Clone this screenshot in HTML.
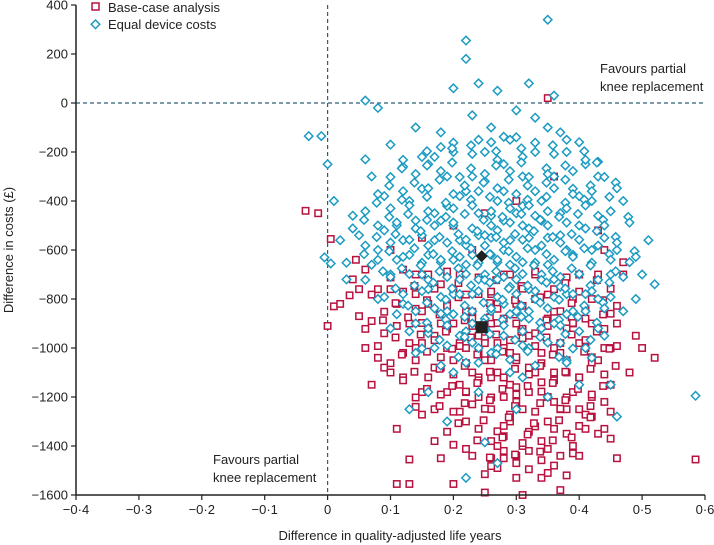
<!DOCTYPE html>
<html><head><meta charset="utf-8"><style>
body{margin:0;background:#fff;}
svg{display:block;font-family:"Liberation Sans",sans-serif;}
</style></head><body>
<svg id="chart" width="714" height="545" viewBox="0 0 714 545" xmlns="http://www.w3.org/2000/svg"></svg>
<script>
const xTicks=[-0.4,-0.3,-0.2,-0.1,0,0.1,0.2,0.3,0.4,0.5,0.6];
const xTickLabels=["−0·4","−0·3","−0·2","−0·1","0","0·1","0·2","0·3","0·4","0·5","0·6"];
const yTicks=[400,200,0,-200,-400,-600,-800,-1000,-1200,-1400,-1600];
const yTickLabels=["400","200","0","−200","−400","−600","−800","−1000","−1200","−1400","−1600"];
const basePts=[[-0.035,-440],[-0.015,-450],[0,-910],[0.005,-555],[0.01,-830],[0.02,-820],[0.035,-785],[0.04,-720],[0.05,-870],[0.06,-1000],[0.045,-640],[0.07,-890],[0.08,-1040],[0.09,-940],[0.1,-760],[0.11,-1330],[0.11,-1555],[0.12,-1120],[0.13,-1555],[0.13,-1455],[0.14,-1000],[0.15,-850],[0.15,-1180],[0.16,-700],[0.17,-950],[0.17,-1250],[0.18,-1450],[0.18,-1080],[0.19,-820],[0.19,-1000],[0.2,-1395],[0.2,-1555],[0.2,-900],[0.21,-1150],[0.21,-700],[0.22,-1000],[0.22,-1300],[0.22,-850],[0.23,-1440],[0.23,-1100],[0.23,-600],[0.24,-950],[0.24,-1200],[0.24,-780],[0.25,-1590],[0.25,-1515],[0.25,-1050],[0.26,-1450],[0.26,-1380],[0.26,-900],[0.26,-1250],[0.27,-1490],[0.27,-1100],[0.27,-820],[0.28,-1450],[0.28,-1420],[0.28,-1000],[0.28,-1200],[0.29,-1150],[0.29,-700],[0.3,-1530],[0.3,-1440],[0.3,-1050],[0.3,-900],[0.31,-1600],[0.31,-1400],[0.31,-1250],[0.32,-1420],[0.32,-1495],[0.32,-950],[0.33,-1100],[0.33,-800],[0.34,-1530],[0.34,-1380],[0.35,-1510],[0.35,-1200],[0.35,20],[0.36,-1480],[0.36,-1000],[0.37,-1580],[0.37,-1440],[0.37,-850],[0.38,-1520],[0.38,-1350],[0.38,-1100],[0.39,-1430],[0.39,-900],[0.4,-1440],[0.4,-1250],[0.4,-700],[0.41,-1330],[0.41,-1000],[0.42,-1200],[0.42,-800],[0.43,-1350],[0.43,-1050],[0.44,-1330],[0.44,-600],[0.45,-1370],[0.45,-1150],[0.46,-1450],[0.46,-900],[0.47,-700],[0.48,-1100],[0.49,-950],[0.5,-1000],[0.52,-1040],[0.585,-1455],[0.47,-650],[0.43,-520],[0.36,-300],[0.3,-400],[0.25,-450],[0.2,-500],[0.15,-550],[0.1,-600],[0.12,-680],[0.14,-780],[0.16,-920],[0.18,-740],[0.2,-1050],[0.21,-980],[0.23,-880],[0.24,-1020],[0.25,-960],[0.26,-1120],[0.27,-980],[0.28,-880],[0.29,-1020],[0.3,-1160],[0.31,-960],[0.32,-1080],[0.33,-940],[0.34,-1020],[0.35,-880],[0.36,-1100],[0.37,-1020],[0.38,-920],[0.39,-1180],[0.4,-980],[0.41,-880],[0.42,-1060],[0.43,-920],[0.44,-1000],[0.45,-860],[0.19,-1180],[0.17,-1080],[0.15,-980],[0.13,-900],[0.11,-820],[0.09,-1080],[0.07,-1150],[0.08,-760],[0.06,-680],[0.05,-760],[0.22,-1180],[0.24,-1120],[0.26,-1040],[0.28,-1120],[0.3,-1220],[0.32,-1180],[0.34,-1140],[0.36,-1220],[0.38,-1250],[0.4,-1120],[0.42,-1280],[0.44,-1220],[0.29,-1300],[0.27,-1340],[0.23,-1230],[0.21,-1260],[0.17,-1380],[0.14,-1240],[0.12,-1020],[0.1,-1100],[0.33,-1320],[0.35,-1300],[0.37,-1250],[0.2,-760],[0.22,-940],[0.26,-780],[0.3,-820],[0.33,-700],[0.36,-760],[0.39,-800],[0.42,-900],[0.45,-1000],[0.18,-900],[0.16,-820],[0.14,-700],[0.28,-1360]];
const baseExtraRows=[
 [-700,[0.1,0.15,0.19,0.24,0.28,0.33,0.38,0.43]],
 [-735,[0.13,0.2,0.26,0.3,0.37,0.42]],
 [-770,[0.07,0.12,0.17,0.22,0.26,0.31,0.35,0.4,0.45]],
 [-805,[0.1,0.15,0.2,0.25,0.29,0.33,0.38,0.43]],
 [-840,[0.09,0.14,0.19,0.23,0.27,0.31,0.36,0.41,0.46]],
 [-875,[0.08,0.12,0.17,0.21,0.25,0.29,0.34,0.38,0.43]],
 [-910,[0.06,0.11,0.15,0.19,0.23,0.27,0.31,0.35,0.39,0.44]],
 [-945,[0.1,0.14,0.18,0.22,0.26,0.3,0.34,0.38,0.42]],
 [-980,[0.08,0.13,0.17,0.21,0.25,0.29,0.33,0.37,0.41,0.46]],
 [-1015,[0.11,0.15,0.19,0.23,0.27,0.31,0.35,0.4,0.44]],
 [-1050,[0.1,0.14,0.18,0.22,0.26,0.3,0.34,0.38,0.42]],
 [-1085,[0.13,0.17,0.21,0.25,0.29,0.33,0.37,0.41,0.45]],
 [-1120,[0.12,0.16,0.2,0.24,0.28,0.32,0.36,0.4,0.44]],
 [-1155,[0.15,0.19,0.23,0.27,0.31,0.35,0.39,0.43]],
 [-1190,[0.14,0.18,0.22,0.26,0.3,0.34,0.38,0.42]],
 [-1225,[0.17,0.21,0.25,0.29,0.33,0.37,0.41]],
 [-1260,[0.15,0.2,0.25,0.29,0.33,0.37,0.41,0.45]],
 [-1295,[0.2,0.24,0.28,0.32,0.36,0.41]],
 [-1330,[0.19,0.24,0.28,0.32,0.36,0.4]],
 [-1365,[0.23,0.27,0.31,0.35,0.38]],
 [-1400,[0.22,0.27,0.31,0.35,0.39]],
 [-1435,[0.25,0.29,0.33]],
 [-1470,[0.26,0.3,0.34]]
];
const equalPts=[[-0.03,-135],[-0.01,-135],[0,-250],[-0.005,-630],[0.005,-655],[0.01,-400],[0.02,-560],[0.03,-720],[0.04,-460],[0.05,-540],[0.06,10],[0.06,-230],[0.07,-300],[0.08,-20],[0.08,-600],[0.09,-380],[0.1,-170],[0.1,-700],[0.11,-500],[0.12,-260],[0.12,-820],[0.13,-400],[0.13,-620],[0.14,-100],[0.14,-900],[0.15,-350],[0.15,-540],[0.16,-250],[0.16,-760],[0.17,-450],[0.17,-1000],[0.18,-180],[0.18,-650],[0.19,-300],[0.19,-850],[0.2,-500],[0.2,-1100],[0.2,60],[0.21,-380],[0.21,-720],[0.22,255],[0.22,-1530],[0.22,180],[0.22,-580],[0.23,-50],[0.23,-900],[0.23,-300],[0.24,-450],[0.24,-1000],[0.24,80],[0.25,-200],[0.25,-700],[0.25,-1385],[0.26,-550],[0.26,-850],[0.26,-100],[0.27,-1470],[0.27,-400],[0.27,-650],[0.27,50],[0.28,-250],[0.28,-950],[0.28,-600],[0.29,-150],[0.29,-750],[0.29,-1100],[0.3,-450],[0.3,-850],[0.3,-30],[0.31,-300],[0.31,-650],[0.32,-550],[0.32,-1000],[0.32,80],[0.33,-200],[0.33,-800],[0.34,-400],[0.34,-700],[0.35,340],[0.35,-100],[0.35,-550],[0.36,-300],[0.36,-900],[0.36,30],[0.37,-450],[0.37,-750],[0.38,-200],[0.38,-600],[0.38,-1050],[0.39,-350],[0.39,-850],[0.4,-500],[0.4,-700],[0.41,-250],[0.41,-1000],[0.42,-600],[0.42,-400],[0.43,-800],[0.43,-300],[0.44,-550],[0.44,-950],[0.45,-700],[0.45,-1150],[0.46,-600],[0.46,-1280],[0.47,-400],[0.47,-850],[0.48,-650],[0.49,-800],[0.5,-700],[0.51,-560],[0.52,-740],[0.585,-1195],[0.13,-1250],[0.16,-1180],[0.19,-1300],[0.24,-1180],[0.3,-1250],[0.35,-1200],[0.4,-1150],[0.21,-950],[0.23,-780],[0.25,-880],[0.26,-620],[0.27,-720],[0.28,-480],[0.29,-560],[0.31,-500],[0.33,-600],[0.22,-660],[0.24,-540],[0.21,-560],[0.2,-640],[0.18,-480],[0.17,-560],[0.16,-620],[0.15,-700],[0.14,-480],[0.12,-560],[0.11,-640],[0.09,-520],[0.19,-420],[0.22,-360],[0.25,-320],[0.28,-360],[0.31,-420],[0.34,-480],[0.37,-540],[0.4,-380],[0.43,-460],[0.25,-540],[0.26,-460],[0.27,-520],[0.23,-620],[0.24,-720],[0.29,-660],[0.3,-720],[0.32,-760],[0.33,-460],[0.35,-660],[0.36,-720],[0.38,-780],[0.39,-620],[0.41,-780],[0.2,-780],[0.18,-860],[0.16,-940],[0.14,-1020],[0.1,-920],[0.08,-800],[0.07,-660],[0.34,-920],[0.32,-880],[0.28,-820],[0.26,-1020],[0.22,-1060],[0.31,-1120],[0.37,-980],[0.42,-1040],[0.15,-220],[0.18,-120],[0.2,-200],[0.26,-160],[0.3,-140],[0.33,-60],[0.37,-120],[0.4,-160],[0.43,-240]];
const equalExtraRows=[
 [-150,[0.2,0.24,0.28,0.33,0.38]],
 [-185,[0.15,0.19,0.22,0.26,0.3,0.35,0.4]],
 [-220,[0.12,0.17,0.23,0.27,0.31,0.36,0.41]],
 [-255,[0.11,0.15,0.19,0.22,0.26,0.3,0.34,0.37,0.42]],
 [-290,[0.1,0.14,0.18,0.21,0.25,0.29,0.32,0.35,0.39,0.44]],
 [-325,[0.09,0.13,0.17,0.21,0.24,0.28,0.31,0.34,0.37,0.41,0.45]],
 [-360,[0.08,0.12,0.16,0.2,0.24,0.27,0.3,0.33,0.36,0.39,0.42,0.46]],
 [-395,[0.07,0.11,0.15,0.18,0.22,0.25,0.28,0.31,0.34,0.37,0.4,0.44]],
 [-430,[0.06,0.1,0.13,0.16,0.2,0.23,0.26,0.29,0.32,0.35,0.38,0.41,0.45]],
 [-465,[0.05,0.09,0.12,0.15,0.18,0.21,0.24,0.27,0.3,0.33,0.36,0.39,0.43,0.47]],
 [-500,[0.04,0.08,0.11,0.14,0.17,0.2,0.23,0.26,0.29,0.32,0.35,0.38,0.41,0.44,0.48]],
 [-535,[0.07,0.1,0.14,0.17,0.2,0.23,0.26,0.29,0.32,0.35,0.38,0.42,0.45]],
 [-570,[0.06,0.1,0.13,0.16,0.19,0.22,0.25,0.28,0.31,0.34,0.37,0.4,0.43,0.46]],
 [-605,[0.05,0.09,0.13,0.16,0.19,0.22,0.25,0.28,0.31,0.34,0.37,0.4,0.44,0.48]],
 [-640,[0.03,0.08,0.12,0.15,0.18,0.21,0.24,0.27,0.3,0.33,0.36,0.39,0.42,0.45,0.49]],
 [-675,[0.08,0.11,0.14,0.17,0.2,0.23,0.26,0.29,0.32,0.35,0.38,0.41,0.45]],
 [-710,[0.06,0.1,0.13,0.16,0.19,0.22,0.25,0.28,0.31,0.34,0.37,0.4,0.43,0.47]],
 [-745,[0.1,0.13,0.16,0.19,0.22,0.25,0.28,0.31,0.34,0.37,0.41,0.44]],
 [-780,[0.09,0.12,0.15,0.18,0.21,0.24,0.27,0.3,0.33,0.36,0.39,0.42,0.45]],
 [-815,[0.12,0.15,0.18,0.21,0.24,0.27,0.3,0.33,0.36,0.4,0.43]],
 [-850,[0.11,0.14,0.17,0.2,0.23,0.26,0.29,0.32,0.35,0.38,0.41,0.44]],
 [-885,[0.15,0.18,0.21,0.24,0.27,0.3,0.33,0.36,0.39,0.42]],
 [-920,[0.13,0.16,0.19,0.22,0.25,0.28,0.31,0.34,0.37,0.4,0.43]],
 [-955,[0.17,0.21,0.25,0.29,0.33,0.37,0.41]],
 [-990,[0.15,0.19,0.23,0.27,0.31,0.35,0.39]],
 [-1025,[0.2,0.26,0.31,0.36]],
 [-1060,[0.18,0.24,0.29,0.33,0.38]]
];
const baseMean=[0.245,-915];
const equalMean=[0.245,-625];

const NS="http://www.w3.org/2000/svg";
const svg=document.getElementById('chart');
const X0=76,X1=705,Y0=5,Y1=495;
const sx=v=>X0+(v+0.4)/1.0*(X1-X0);
const sy=v=>Y0+(400-v)/2000*(Y1-Y0);
const RED="#b8123f",BLUE="#1b9bc2",AX="#222";
function mk(tag,attrs,parent){const e=document.createElementNS(NS,tag);for(const k in attrs)e.setAttribute(k,attrs[k]);(parent||svg).appendChild(e);return e;}
function txt(s,attrs,parent){const e=mk('text',attrs,parent);e.textContent=s;return e;}
function expand(pts,rows){const out=pts.slice();rows.forEach((r,i)=>r[1].forEach((x,j)=>out.push([x+(i%2?0.008:0),r[0]+((j%3)-1)*12])));return out;}

const r1=mk('line',{x1:sx(0),x2:sx(0),y1:Y0,y2:Y1,stroke:"#2f5f73","stroke-width":1.2,"stroke-dasharray":"4,3"});


const r2=mk('line',{x1:X0,x2:X1,y1:sy(0),y2:sy(0),stroke:"#2f5f73","stroke-width":1.2,"stroke-dasharray":"4,3"});



const gB=mk('g',{});


expand(basePts,baseExtraRows).forEach(p=>{
  const e=mk('rect',{x:sx(p[0])-3.2,y:sy(p[1])-3.2,width:6.4,height:6.4,fill:"#fff",stroke:RED,"stroke-width":1.5},gB);
  
  
});
const gE=mk('g',{});


expand(equalPts,equalExtraRows).forEach(p=>{
  const cx=sx(p[0]),cy=sy(p[1]),d=4.2;
  const e=mk('polygon',{points:`${cx},${cy-d} ${cx+d},${cy} ${cx},${cy+d} ${cx-d},${cy}`,fill:"#fff",stroke:BLUE,"stroke-width":1.5},gE);
  
  
});
const m1=mk('rect',{x:sx(baseMean[0])-6,y:sy(baseMean[1])-6,width:12,height:12,fill:"#222"});


const cx=sx(equalMean[0]),cy=sy(equalMean[1]);
const m2=mk('polygon',{points:`${cx},${cy-6} ${cx+6},${cy} ${cx},${cy+6} ${cx-6},${cy}`,fill:"#222"});



const ya=mk('line',{x1:X0,x2:X0,y1:Y0,y2:Y1,stroke:AX,"stroke-width":1.5});


const xa=mk('line',{x1:X0,x2:X1,y1:Y1,y2:Y1,stroke:AX,"stroke-width":1.5});


yTicks.forEach((v,i)=>{
  mk('line',{x1:X0-5,x2:X0,y1:sy(v),y2:sy(v),stroke:AX,"stroke-width":1.2});
  const t=txt(yTickLabels[i],{x:X0-8,y:sy(v)+4.5,"text-anchor":"end","font-size":13,fill:"#222"});
  
  
});
xTicks.forEach((v,i)=>{
  mk('line',{x1:sx(v),x2:sx(v),y1:Y1,y2:Y1+5,stroke:AX,"stroke-width":1.2});
  const t=txt(xTickLabels[i],{x:sx(v),y:Y1+19,"text-anchor":"middle","font-size":13,fill:"#222"});
  
  
});
const xt=txt("Difference in quality-adjusted life years",{x:390,y:540,"text-anchor":"middle","font-size":13,fill:"#222"});


const yt=txt("Difference in costs (£)",{x:0,y:0,"text-anchor":"middle","font-size":13,fill:"#222",transform:"translate(13,250) rotate(-90)"});


const a1=txt("",{x:600,y:73,"font-size":13,fill:"#222"});


mk('tspan',{x:600},a1).textContent="Favours partial";
mk('tspan',{x:600,dy:18},a1).textContent="knee replacement";
const a2=txt("",{x:213,y:464,"font-size":13,fill:"#222"});


mk('tspan',{x:213},a2).textContent="Favours partial";
mk('tspan',{x:213,dy:18},a2).textContent="knee replacement";
const lg=mk('g',{});


mk('rect',{x:92,y:3,width:7,height:7,fill:"#fff",stroke:RED,"stroke-width":1.5},lg);
txt("Base-case analysis",{x:108,y:12,"font-size":13,fill:"#222"},lg);
mk('polygon',{points:"95.5,20 99.8,24.3 95.5,28.6 91.2,24.3",fill:"#fff",stroke:BLUE,"stroke-width":1.5},lg);
txt("Equal device costs",{x:108,y:29,"font-size":13,fill:"#222"},lg);
</script>
</body></html>
